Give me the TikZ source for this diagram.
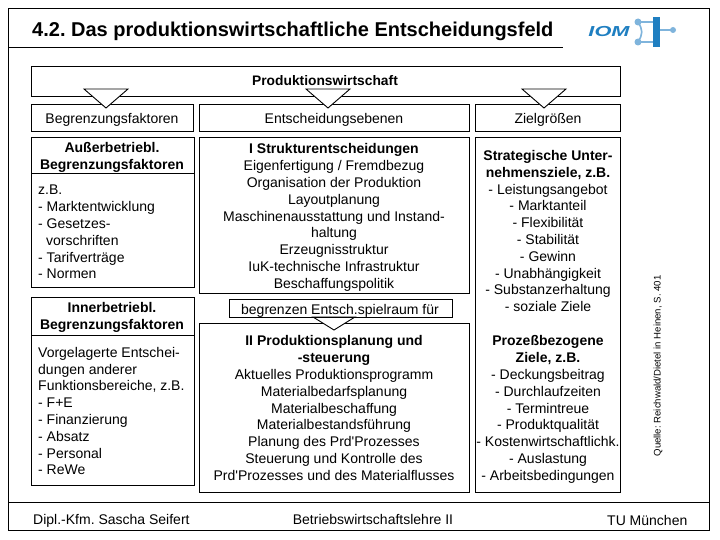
\documentclass[tikz,border=0pt]{standalone}
\usepackage{fontspec}
\setmainfont{Liberation Sans}
\newfontfamily\plainfam{Liberation Sans}
\newcommand{\apos}{{\plainfam '}}
\definecolor{iomblue}{HTML}{1F7FC1}
\definecolor{iomlight}{HTML}{7FB4DC}
\tikzset{
 frameline/.style={draw=black,line width=1pt},
 panel/.style={draw=black,line width=0.9pt,fill=white},
 vtri/.style={draw=black,line width=0.9pt,fill=white,line join=miter},
 body/.style={inner sep=0pt,align=center,font=\fontsize{14}{16.8}\selectfont,text depth=0pt},
 bodyleft/.style={inner sep=0pt,align=left,anchor=north west,font=\fontsize{14}{16.8}\selectfont},
 footerfont/.style={inner sep=0pt,font=\fontsize{14}{16}\selectfont},
 iomdot/.style={circle,fill=iomlight,inner sep=0pt,minimum size=7pt}
}
\newcommand{\rbox}[5]{\path[panel] (#2,#3) rectangle (#4,#5) coordinate (#1);}
\begin{document}
\frenchspacing
\begin{tikzpicture}[x=1pt,y=-1pt]
\useasboundingbox (0,0) rectangle (720,540);
\fill[white] (0,0) rectangle (720,540);
% frame
\draw[frameline] (8,9) rectangle (709,530);
\draw[frameline] (8,48) -- (563,48);
\draw[frameline] (8,502) -- (709,502);
\node[inner sep=0pt,anchor=west,font=\bfseries\fontsize{20}{24}\selectfont] (title) at (32,31) {4.2. Das produktionswirtschaftliche Entscheidungsfeld};
% logo
\coordinate (la) at (638,22);
\coordinate (lb) at (638,42);
\coordinate (lc) at (673,30);
\draw[iomlight,line width=1.6pt] (la) -- (656,22) (lb) -- (656,42) (lc) -- (656,30);
\draw[iomlight,line width=1.6pt] (la) .. controls (643,30) and (643,34) .. (lb);
\node[iomdot] (d1) at (la) {};
\node[iomdot] (d2) at (lb) {};
\node[iomdot,minimum size=6pt] (d3) at (lc) {};
\fill[iomblue] (653,17) rectangle (660,47);
\node[inner sep=0pt,text=iomblue,xscale=1.5,font=\bfseries\itshape\fontsize{14.5}{15}\selectfont] (iom) at (609,32) {IOM};
% top
\rbox{a}{31}{66}{620}{96}
\node[body,font=\bfseries\fontsize{13.8}{16}\selectfont] (prod) at (325,81) {Produktionswirtschaft};
\rbox{b}{31}{104}{193}{131}
\rbox{c}{199}{104}{469}{131}
\rbox{d}{475}{104}{620}{131}
\node[body] (h1) at (112,118) {Begrenzungsfaktoren};
\node[body] (h2) at (334,118) {Entscheidungsebenen};
\node[body] (h3) at (548,118) {Zielgrößen};
\foreach \c in {106,328,544}
  \path[vtri] (\c-22,89) -- (\c+22,89) -- (\c,108) -- cycle;
% left boxes
\rbox{e}{31}{137}{194}{287}
\draw[line width=0.9pt] (31,173) -- (194,173);
\rbox{f}{31}{297}{194}{485}
\draw[line width=0.9pt] (31,335) -- (194,335);
\node[body,font=\bfseries\fontsize{14}{17}\selectfont] (t1) at (112,156) {Außerbetriebl.\\Begrenzungsfaktoren};
\node[bodyleft] (t2) at (38,185) {z.B.\\- Marktentwicklung\\- Gesetzes-\\\hspace*{8pt}vorschriften\\- Tarifverträge\\- Normen};
\node[body,font=\bfseries\fontsize{14}{17}\selectfont] (t3) at (112,316) {Innerbetriebl.\\Begrenzungsfaktoren};
\node[bodyleft] (t4) at (38,347) {Vorgelagerte Entschei-\\dungen anderer\\Funktionsbereiche, z.B.\\- F+E\\- Finanzierung\\- Absatz\\- Personal\\- ReWe};
% middle
\rbox{g}{199}{137}{469}{293}
\rbox{i}{199}{323}{469}{492}
\rbox{h}{229}{299}{452}{317}
\path[vtri] (313,317) -- (355,317) -- (334,330) -- cycle;
\draw[line width=0.9pt] (229,317) -- (452,317);
\node[body] (t5) at (334,216) {\textbf{I Strukturentscheidungen}\\Eigenfertigung / Fremdbezug\\Organisation der Produktion\\Layoutplanung\\Maschinenausstattung und Instand-\\haltung\\Erzeugnisstruktur\\IuK-technische Infrastruktur\\Beschaffungspolitik};
\node[body] (t6) at (340,309) {begrenzen Entsch.spielraum für};
\node[body] (t7) at (334,408) {\textbf{II Produktionsplanung und}\\\textbf{-steuerung}\\Aktuelles Produktionsprogramm\\Materialbedarfsplanung\\Materialbeschaffung\\Materialbestandsführung\\Planung des Prd\apos Prozesses\\Steuerung und Kontrolle des\\Prd\apos Prozesses und des Materialflusses};
% right
\rbox{j}{475}{137}{620}{492}
\node[body] (t8) at (548,231) {\textbf{Strategische Unter-}\\\textbf{nehmensziele, z.B.}\\- Leistungsangebot\\- Marktanteil\\- Flexibilität\\- Stabilität\\- Gewinn\\- Unabhängigkeit\\- Substanzerhaltung\\- soziale Ziele};
\node[body] (t9) at (548,408) {\textbf{Prozeßbezogene}\\\textbf{Ziele, z.B.}\\- Deckungsbeitrag\\- Durchlaufzeiten\\- Termintreue\\- Produktqualität\\- Kostenwirtschaftlichk.\\- Auslastung\\- Arbeitsbedingungen};
% source
\node[inner sep=0pt,rotate=90,font=\fontsize{9.6}{11}\selectfont] (src) at (658,366) {Quelle: Reichwald/Dietel in Heinen, S. 401};
% footer
\node[footerfont,anchor=base west] (f1) at (33,524) {Dipl.-Kfm. Sascha Seifert};
\node[footerfont,anchor=base] (f2) at (373,524) {Betriebswirtschaftslehre II};
\node[footerfont,anchor=base west] (f3) at (607,525) {TU München};
\end{tikzpicture}
\end{document}
